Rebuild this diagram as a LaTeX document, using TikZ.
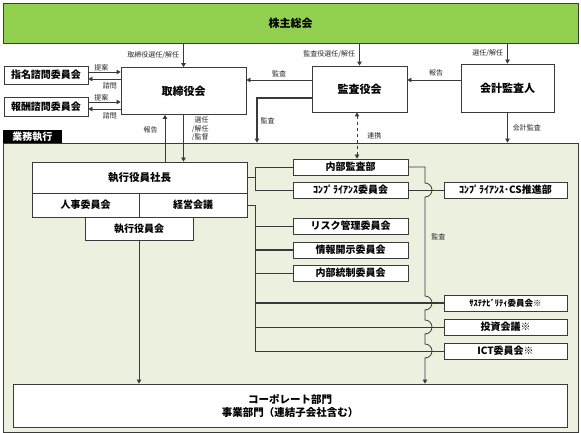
\documentclass[tikz,border=0pt]{standalone}
\usepackage{fontspec}
\setmainfont{Noto Sans CJK JP}
\usetikzlibrary{calc,arrows.meta}
\definecolor{kabugreen}{HTML}{92D050}
\definecolor{gyoumubg}{HTML}{EBF1DE}
\definecolor{linegray}{HTML}{3A3A3A}
\tikzset{
	box/.style={draw=linegray, line width=0.8pt, fill=white, inner sep=0pt, align=center, font=\fontsize{10}{12}\selectfont\bfseries},
	lbl/.style={inner sep=0pt, font=\fontsize{7}{8.5}\selectfont, text=black!85},
	ln/.style={draw=linegray, line width=0.8pt},
	arr/.style={-{Triangle[length=4pt,width=4.5pt]}},
}

\begin{document}
\begin{tikzpicture}[x=1pt,y=-1pt]
	%%%%% START %%%%%
	\useasboundingbox (0,0) rectangle (581,433);
	
	\node[box, fill=kabugreen, minimum width=575pt, minimum height=40pt, font=\fontsize{11}{13}\selectfont\bfseries] (kabunushi) at (290.5,23) {株主総会};
	
	\node[box, minimum width=125pt, minimum height=47pt, font=\fontsize{11}{13}\selectfont\bfseries] (torishimari) at (183.5,91) {取締役会};
	\node[box, minimum width=95pt, minimum height=46pt, font=\fontsize{11}{13}\selectfont\bfseries] (kansayaku) at (359.5,89) {監査役会};
	\node[box, minimum width=93pt, minimum height=48pt, font=\fontsize{11}{13}\selectfont\bfseries] (kaikei) at (507.5,88) {会計監査人};
	
	\node[box, minimum width=84pt, minimum height=18pt] (shimei) at (46,75) {指名諮問委員会};
	\node[box, minimum width=84pt, minimum height=19pt] (houshuu) at (46,106.5) {報酬諮問委員会};
	
	% 業務執行
	\node[draw=linegray, line width=0.8pt, fill=gyoumubg, minimum width=575pt, minimum height=289pt, inner sep=0pt] (gyoumu) at (290.5,287.5) {};
	\node[fill=black, text=white, minimum width=59pt, minimum height=13pt, inner sep=0pt, font=\fontsize{10}{12}\selectfont\bfseries] (tab) at (32.5,136.5) {業務執行};
	
	\node[box, minimum width=215pt, minimum height=31pt, font=\fontsize{10.5}{12}\selectfont\bfseries] (shachou) at (139.5,177.5) {執行役員社長};
	\node[box, minimum width=107pt, minimum height=24pt] (jinji) at (85.5,205) {人事委員会};
	\node[box, minimum width=108pt, minimum height=24pt] (keiei) at (193,205) {経営会議};
	\node[box, minimum width=108pt, minimum height=23pt] (shikkou) at (139,228.5) {執行役員会};
	
	\node[box, minimum width=554pt, minimum height=43pt, font=\fontsize{10.5}{13}\selectfont\bfseries] (corp) at (290,405.5) {コーポレート部門\\事業部門（連結子会社含む）};
	
	\node[box, minimum width=115pt, minimum height=16pt] (naibu) at (350.5,167) {内部監査部};
	\node[box, minimum width=115pt, minimum height=16pt] (compli) at (350.5,190) {ｺﾝﾌﾟﾗｲｱﾝｽ委員会};
	\node[box, minimum width=115pt, minimum height=16pt] (risk) at (350.5,226) {リスク管理委員会};
	\node[box, minimum width=115pt, minimum height=16pt] (jouhou) at (350.5,250) {情報開示委員会};
	\node[box, minimum width=115pt, minimum height=16pt] (tousei) at (350.5,273) {内部統制委員会};
	
	\node[box, minimum width=123pt, minimum height=16pt] (cs) at (505.5,190) {ｺﾝﾌﾟﾗｲｱﾝｽ･CS推進部};
	\node[box, minimum width=123pt, minimum height=16pt, font=\fontsize{8.5}{10}\selectfont\bfseries] (susta) at (505.5,303) {ｻｽﾃﾅﾋﾞﾘﾃｨ委員会※};
	\node[box, minimum width=123pt, minimum height=16pt] (toushi) at (505.5,327) {投資会議※};
	\node[box, minimum width=123pt, minimum height=16pt] (ict) at (505.5,351) {ICT委員会※};
	
	% 株主総会から
	\draw[ln,arr] (kabunushi.south -| torishimari.north) -- node[lbl, left=4pt] {取締役選任/解任} (torishimari.north);
	\draw[ln,arr] (kabunushi.south -| kansayaku.north) -- node[lbl, left=4pt] {監査役選任/解任} (kansayaku.north);
	\draw[ln,arr] (kabunushi.south -| kaikei.north) -- node[lbl, left=4pt] {選任/解任} (kaikei.north);
	
	% 諮問委員会
	\draw[ln,arr] ([yshift=3pt]shimei.east) -- node[lbl, above=1pt, pos=0.4] {提案} ([yshift=3pt]shimei.east -| torishimari.west);
	\draw[ln,arr] ([yshift=-4pt]shimei.east -| torishimari.west) -- node[lbl, below=3pt, pos=0.33] {諮問} ([yshift=-4pt]shimei.east);
	\draw[ln,arr] ([yshift=4.5pt]houshuu.east) -- node[lbl, above=1pt, pos=0.4] {提案} ([yshift=4.5pt]houshuu.east -| torishimari.west);
	\draw[ln,arr] ([yshift=-2.5pt]houshuu.east -| torishimari.west) -- node[lbl, below=3pt, pos=0.33] {諮問} ([yshift=-2.5pt]houshuu.east);
	
	% 監査役会・会計監査人
	\draw[ln,arr] ([yshift=9pt]kansayaku.west) -- node[lbl, above=3pt] {監査} ([yshift=9pt]kansayaku.west -| torishimari.east);
	\coordinate (kansaturn) at (257,98);
	\draw[ln,arr,line width=1.2pt] ([yshift=-9pt]kansayaku.west) -- (kansaturn) -- node[lbl, right=3pt] {監査} (kansaturn |- gyoumu.north);
	\draw[ln,arr] ([yshift=8pt]kaikei.west) -- node[lbl, above=3pt, pos=0.46] {報告} ([yshift=8pt]kaikei.west -| kansayaku.east);
	\draw[ln,arr] (kaikei.south) -- node[lbl, right=5pt] {会計監査} (kaikei.south |- gyoumu.north);
	\draw[ln, dashed, {Triangle[length=4pt,width=4.5pt]}-{Triangle[length=4pt,width=4.5pt]}] ([xshift=-2.5pt]kansayaku.south) -- node[lbl, right=10pt] {連携} ([xshift=-2.5pt]kansayaku.south |- naibu.north);
	
	% 取締役会と執行役員社長
	\draw[ln,arr] (torishimari.south) -- node[lbl, right=8pt, pos=0.3, align=right] {選任\\/解任\\/監督} (torishimari.south |- shachou.north);
	\draw[ln,arr] ([xshift=-18.5pt]torishimari.south |- shachou.north) -- node[lbl, left=7pt, pos=0.68] {報告} ([xshift=-18.5pt]torishimari.south);
	
	% 社長・経営会議から各委員会
	\draw[ln] (shachou.east) -- ++(8,0) coordinate (brk);
	\draw[ln] (naibu.west) -| (brk) |- (compli.west);
	\draw[ln] (keiei.east) -- ++(8,0) coordinate (kei) -- (kei |- ict.west) -- (ict.west);
	\draw[ln] (kei |- risk.west) -- (risk.west);
	\draw[ln,line width=1.2pt] (kei |- jouhou.west) -- (jouhou.west);
	\draw[ln] (kei |- tousei.west) -- (tousei.west);
	\draw[ln,line width=1.2pt] (kei |- susta.west) -- (susta.west);
	\draw[ln] (kei |- toushi.west) -- (toushi.west);
	\draw[ln] (compli.east) -- (cs.west);
	
	% 内部監査部の監査
	\coordinate (kansa) at (425,167);
	\draw[ln,arr] (naibu.east) -- (kansa)
		-- ($(kansa |- cs.west)+(0,-7)$) arc (-90:90:7)
		-- node[lbl, right=6pt, pos=0.4] {監査} ($(kansa |- susta.west)+(0,-7)$) arc (-90:90:7)
		-- ($(kansa |- toushi.west)+(0,-7)$) arc (-90:90:7)
		-- ($(kansa |- ict.west)+(0,-7)$) arc (-90:90:7)
		-- (kansa |- corp.north);
	
	\draw[ln,arr] (shikkou.south) -- (shikkou.south |- corp.north);
	%%%%% END %%%%%
\end{tikzpicture}
\end{document}
